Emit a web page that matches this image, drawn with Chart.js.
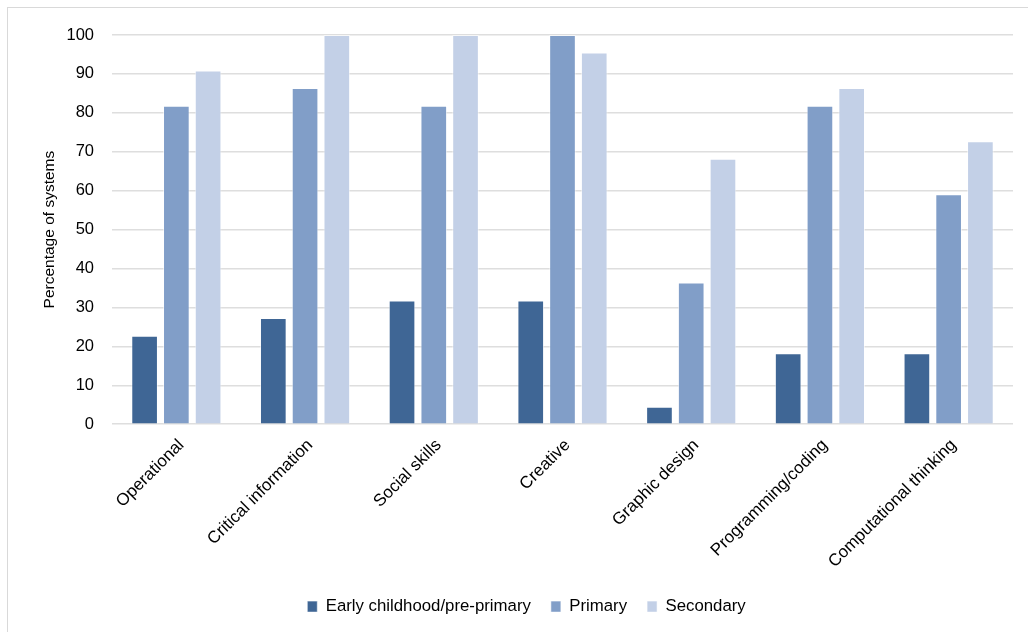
<!DOCTYPE html>
<html>
<head>
<meta charset="utf-8">
<script src="https://cdn.jsdelivr.net/npm/chart.js@4.4.1/dist/chart.umd.min.js"></script>
<style>
  html, body { margin: 0; padding: 0; background: #fff; }
  #frame { position: absolute; left: 7px; top: 7px; width: 1040px; height: 640px; border: 1px solid #d9d9d9; box-sizing: border-box; }
  #wrap { position: absolute; left: 0; top: 0; width: 1028px; height: 632px; }
</style>
</head>
<body>
<div id="frame"></div>
<div id="wrap"><canvas id="c" width="1028" height="632"></canvas></div>
<script>
const categories = ["Operational", "Critical information", "Social skills", "Creative", "Graphic design", "Programming/coding", "Computational thinking"];
const earlyChildhood = [22.7, 27.3, 31.8, 31.8, 4.5, 18.2, 18.2];
const primary = [81.8, 86.4, 81.8, 100, 36.4, 81.8, 59.1];
const secondary = [90.9, 100, 100, 95.5, 68.2, 86.4, 72.7];
const seriesNames = ["Early childhood/pre-primary", "Primary", "Secondary"];

const fontFamily = "'Liberation Sans', Arial, sans-serif";

const barStyle = {
  borderColor: "rgba(255,255,255,0.55)",
  borderWidth: 1,
  barPercentage: 0.84,
  categoryPercentage: 0.74
};

new Chart(document.getElementById("c"), {
  type: "bar",
  data: {
    labels: categories,
    datasets: [
      Object.assign({ label: seriesNames[0], data: earlyChildhood, backgroundColor: "#3f6695" }, barStyle),
      Object.assign({ label: seriesNames[1], data: primary, backgroundColor: "#819ec8" }, barStyle),
      Object.assign({ label: seriesNames[2], data: secondary, backgroundColor: "#c3d0e7" }, barStyle)
    ]
  },
  options: {
    responsive: false,
    animation: false,
    layout: { padding: { left: 40, right: 15, top: 35, bottom: 7 } },
    plugins: {
      tooltip: { enabled: false },
      legend: {
        position: "bottom",
        labels: {
          boxWidth: 10,
          boxHeight: 11,
          padding: 20,
          color: "#000",
          font: { family: fontFamily, size: 16.8 }
        }
      }
    },
    scales: {
      x: {
        grid: { display: false, drawTicks: false },
        border: { display: false },
        ticks: {
          minRotation: 45,
          maxRotation: 45,
          padding: 11,
          labelOffset: 5,
          color: "#000",
          font: { family: fontFamily, size: 17 }
        },
        afterFit: (scale) => { scale.height = 154; }
      },
      y: {
        min: 0,
        max: 100,
        ticks: {
          stepSize: 10,
          padding: 18,
          color: "#000",
          font: { family: fontFamily, size: 16.5 }
        },
        grid: { color: "#dedede", lineWidth: 1.5, drawTicks: false },
        border: { display: false },
        title: {
          display: true,
          text: "Percentage of systems",
          color: "#000",
          font: { family: fontFamily, size: 15.5 },
          padding: { top: 0, bottom: 0 }
        },
        afterFit: (scale) => { scale.width = 72; }
      }
    }
  }
});
</script>
</body>
</html>
